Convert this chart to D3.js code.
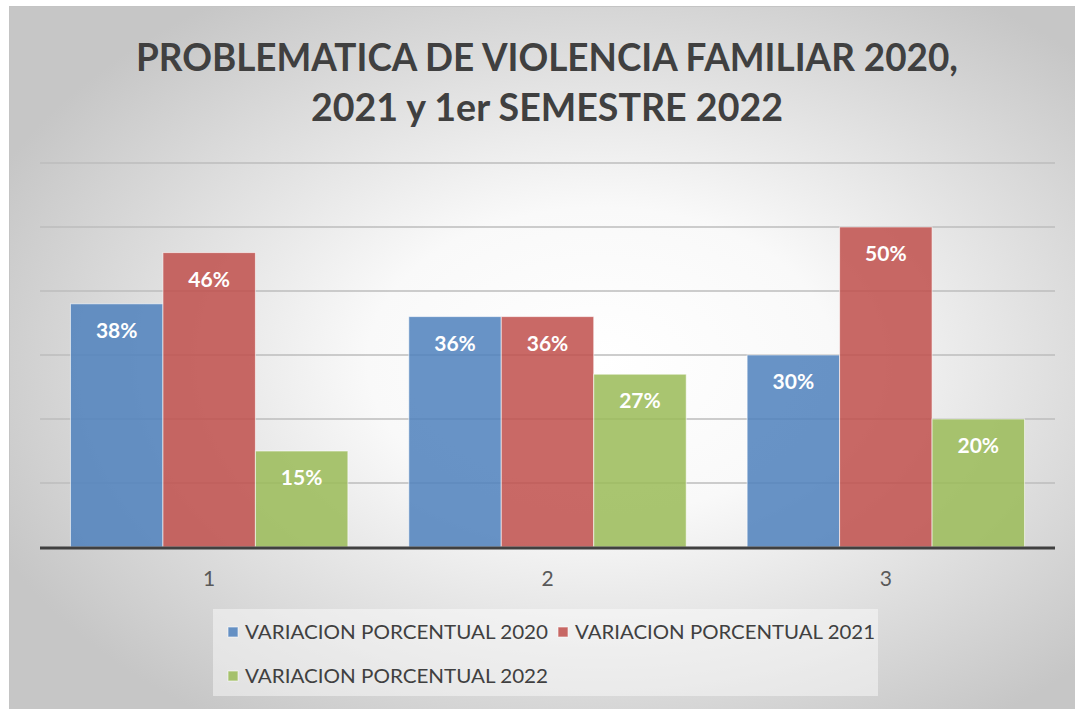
<!DOCTYPE html>
<html>
<head>
<meta charset="utf-8">
<script src="https://cdn.jsdelivr.net/npm/d3@7"></script>
<style>
  body { margin: 0; background: #fff; }
  text { font-family: Lato, "Open Sans", sans-serif; }
</style>
</head>
<body>
<div id="chart"></div>
<script>
var categories = ["1", "2", "3"];
var series = ["VARIACION PORCENTUAL 2020", "VARIACION PORCENTUAL 2021", "VARIACION PORCENTUAL 2022"];
var values2020 = [38, 36, 30];
var values2021 = [46, 36, 50];
var values2022 = [15, 27, 20];
var yTicks = [10, 20, 30, 40, 50, 60];
var colors = ["#4F81BD", "#C0504D", "#9BBB59"];
var titleLines = ["PROBLEMATICA DE VIOLENCIA FAMILIAR 2020,", "2021 y 1er SEMESTRE 2022"];

var allValues = [values2020, values2021, values2022];

var width = 1075, height = 709;
var margin = {top: 163, right: 20, bottom: 162, left: 40};

var svg = d3.select("#chart").append("svg")
    .attr("width", width)
    .attr("height", height);

// background gradient like the office chart style
var defs = svg.append("defs");
var grad = defs.append("radialGradient")
    .attr("id", "bg")
    .attr("cx", "0.55").attr("cy", "0.5").attr("r", "0.62");
grad.append("stop").attr("offset", "0").attr("stop-color", "#ffffff");
grad.append("stop").attr("offset", "0.35").attr("stop-color", "#f9f9f9");
grad.append("stop").attr("offset", "1").attr("stop-color", "#c6c6c6");

svg.append("rect")
    .attr("x", 9.5).attr("y", 6.5)
    .attr("width", width).attr("height", height)
    .attr("fill", "url(#bg)")
    .attr("stroke", "#c4c4c4");

////////// scales //////////

var x0 = d3.scaleBand()
    .domain(categories)
    .range([margin.left, width - margin.right])
    .paddingInner(0.18)
    .paddingOuter(0.09);

var x1 = d3.scaleBand()
    .domain(series)
    .range([0, x0.bandwidth()]);

var y = d3.scaleLinear()
    .domain([0, 60])
    .range([height - margin.bottom, margin.top]);

// gridlines
svg.append("g")
    .attr("class", "grid")
  .selectAll("line")
    .data(yTicks)
    .enter().append("line")
    .attr("x1", margin.left)
    .attr("x2", width - margin.right)
    .attr("y1", function(d) { return y(d); })
    .attr("y2", function(d) { return y(d); })
    .attr("stroke", "#bcbcbc")
    .attr("stroke-width", 1.3);

////////// bars //////////

var groups = svg.append("g")
  .selectAll("g")
    .data(categories)
    .enter().append("g")
    .attr("transform", function(d) { return "translate(" + x0(d) + ",0)"; });

groups.selectAll("rect")
    .data(function(d, i) {
      return series.map(function(s, j) { return {key: s, value: allValues[j][i], idx: j}; });
    })
    .enter().append("rect")
    .attr("x", function(d) { return x1(d.key); })
    .attr("y", function(d) { return y(d.value); })
    .attr("width", x1.bandwidth())
    .attr("height", function(d) { return y(0) - y(d.value); })
    .attr("fill", function(d) { return colors[d.idx]; })
    .attr("fill-opacity", 0.86)
    .attr("stroke", "#ffffff")
    .attr("stroke-opacity", 0.6)
    .attr("stroke-width", 1);

groups.selectAll("text")
    .data(function(d, i) {
      return series.map(function(s, j) { return {key: s, value: allValues[j][i]}; });
    })
    .enter().append("text")
    .attr("x", function(d) { return x1(d.key) + x1.bandwidth() / 2; })
    .attr("y", function(d) { return y(d.value) + 34; })
    .attr("text-anchor", "middle")
    .attr("fill", "#ffffff")
    .attr("font-weight", "bold")
    .attr("font-size", 21)
    .text(function(d) { return d.value + "%"; });

// baseline axis
svg.append("line")
    .attr("x1", margin.left)
    .attr("x2", width - margin.right)
    .attr("y1", y(0) + 1)
    .attr("y2", y(0) + 1)
    .attr("stroke", "#404040")
    .attr("stroke-width", 3);

var xAxis = d3.axisBottom(x0).tickSize(0).tickPadding(0);
var gx = svg.append("g")
    .attr("transform", "translate(0," + (y(0) + 24) + ")")
    .call(xAxis);
gx.select(".domain").remove();
gx.selectAll("text")
    .attr("font-family", "Lato, 'Open Sans', sans-serif")
    .attr("font-size", 21)
    .attr("fill", "#595959")
    .attr("dy", "0.71em");

////////// title //////////

// Calibri is narrower than Lato, so squeeze glyphs to the original widths
var titleWidths = [822, 472];
var titleY = [71, 121];
titleLines.forEach(function(t, i) {
  svg.append("text")
      .attr("x", 547)
      .attr("y", titleY[i])
      .attr("text-anchor", "middle")
      .attr("font-weight", "bold")
      .attr("font-size", 38)
      .attr("fill", "#404040")
      .attr("textLength", titleWidths[i])
      .attr("lengthAdjust", "spacingAndGlyphs")
      .text(t);
});

////////// legend //////////

svg.append("rect")
    .attr("x", 213).attr("y", 609)
    .attr("width", 665).attr("height", 87)
    .attr("fill", "#ffffff")
    .attr("fill-opacity", 0.45);

var legendPos = [[228, 632], [558, 632], [228, 676]];
var legendWidths = [303, 300, 303];
var legend = svg.append("g")
  .selectAll("g")
    .data(series)
    .enter().append("g")
    .attr("transform", function(d, i) { return "translate(" + legendPos[i][0] + "," + legendPos[i][1] + ")"; });

legend.append("rect")
    .attr("x", 0).attr("y", -5)
    .attr("width", 10).attr("height", 10)
    .attr("fill", function(d, i) { return colors[i]; })
    .attr("fill-opacity", 0.86)
    .attr("stroke", "#ffffff")
    .attr("stroke-opacity", 0.6);

legend.append("text")
    .attr("x", 17)
    .attr("dy", "0.36em")
    .attr("font-size", 20)
    .attr("fill", "#404040")
    .attr("textLength", function(d, i) { return legendWidths[i]; })
    .attr("lengthAdjust", "spacingAndGlyphs")
    .text(function(d) { return d; });
</script>
</body>
</html>
